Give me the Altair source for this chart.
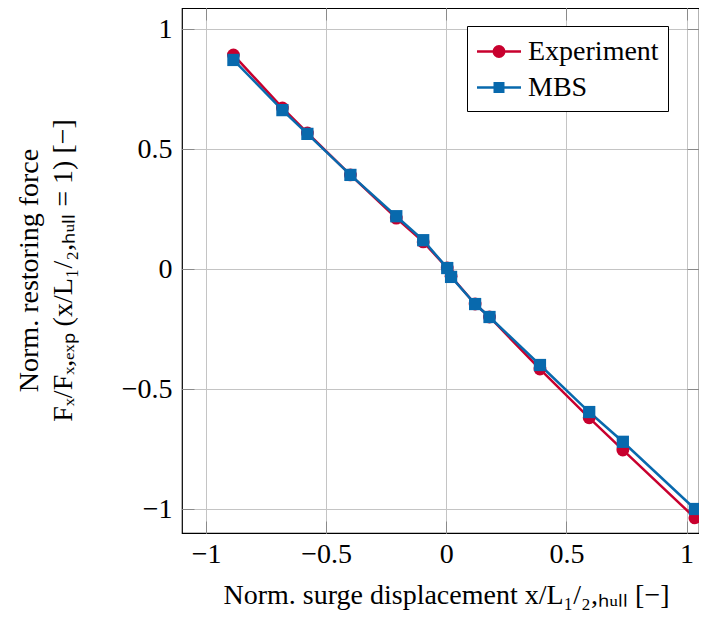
import altair as alt
import pandas as pd

# Data
series_names = ["Experiment", "MBS"]
x_vals = [-0.886, -0.682, -0.578, -0.399, -0.208, -0.096, 0.004, 0.02, 0.12, 0.18, 0.39, 0.595, 0.735, 1.035]
y_exp = [0.892, 0.671, 0.567, 0.392, 0.212, 0.113, 0.004, -0.03, -0.146, -0.2, -0.417, -0.62, -0.754, -1.037]
y_mbs = [0.871, 0.662, 0.563, 0.392, 0.22, 0.12, 0.004, -0.033, -0.146, -0.2, -0.4, -0.596, -0.72, -1.0]
tick_vals = [-1, -0.5, 0, 0.5, 1]

rows = []
for i, (xv, yv) in enumerate(zip(x_vals, y_exp)):
    rows.append({"series": "Experiment", "x": xv, "y": yv, "i": i})
for i, (xv, yv) in enumerate(zip(x_vals, y_mbs)):
    rows.append({"series": "MBS", "x": xv, "y": yv, "i": i})
df = pd.DataFrame(rows)

RED = "#c8002e"
BLUE = "#0869ad"
FONT = "Liberation Serif"
FS = 28
TICK_GRAY = "#8a8a8a"
colors = [RED, BLUE]

color_scale = alt.Scale(domain=series_names, range=colors)

# legend glyphs: line segment with marker (symbol units, r = 15px)
circle_path = "M-1.033,0H1.9M0.783,0A0.35,0.35 0 1 1 0.083,0A0.35,0.35 0 1 1 0.783,0Z"
square_path = "M-1.033,0H1.9M0.15,-0.283H0.716V0.283H0.15Z"

legend_kw = dict(
    title=None,
    orient="none",
    legendX=285,
    legendY=18,
    strokeColor="black",
    fillColor="white",
    padding=9,
    cornerRadius=0,
    labelFont=FONT,
    labelFontSize=FS,
    labelColor="black",
    labelOffset=19,
    labelExpr="datum.label + '\u00a0\u00a0\u00a0'",
    symbolSize=900,
    symbolOpacity=1,
    symbolStrokeWidth=2.5,
    rowPadding=5,
)

label_expr = "replace(format(datum.value, '~g'), '-', '\u2212')"

x_scale = alt.Scale(domain=[-1.1, 1.052], nice=False, zero=False)
y_scale = alt.Scale(domain=[-1.1, 1.0875], nice=False, zero=False)

x_enc = alt.X(
    "x:Q",
    scale=x_scale,
    axis=alt.Axis(
        orient="bottom",
        values=tick_vals,
        labelExpr=label_expr,
        title="Norm. surge displacement x/L\u2081/\u2082,\u2095\u1d64\u2097\u2097 [\u2212]",
        titleX=264,
        titleY=82,
        titleAlign="center",
        titleBaseline="alphabetic",
        offset=-12,
        ticks=True,
        tickSize=12,
        tickColor=TICK_GRAY,
        labelPadding=7,
        grid=True,
    ),
)
y_enc = alt.Y(
    "y:Q",
    scale=y_scale,
    axis=alt.Axis(
        orient="left",
        values=tick_vals,
        labelExpr=label_expr,
        title=[
            "Norm. restoring force",
            "F\u2093/F\u2093,\u2091\u2093\u209a (x/L\u2081/\u2082,\u2095\u1d64\u2097\u2097 = 1) [\u2212]",
        ],
        titleX=-165,
        titleY=262,
        titleAngle=270,
        titleAlign="center",
        titleBaseline="middle",
        titleLineHeight=34,
        offset=-12,
        ticks=True,
        tickSize=12,
        tickColor=TICK_GRAY,
        labelPadding=10,
        grid=True,
    ),
)

base = alt.Chart(df)

lines = base.mark_line(strokeWidth=2.5).encode(
    x=x_enc,
    y=y_enc,
    color=alt.Color("series:N", scale=color_scale, legend=alt.Legend(**legend_kw)),
    order="i:Q",
)

exp_points = base.transform_filter(alt.datum.series == "Experiment").mark_point(
    filled=True, opacity=1, shape="circle", size=165, color=RED
).encode(x="x:Q", y="y:Q")

mbs_points = base.transform_filter(alt.datum.series == "MBS").mark_point(
    filled=True, opacity=1, shape="square", size=150, color=BLUE
).encode(x="x:Q", y="y:Q")

# invisible layer carrying the legend glyphs
legend_layer = base.mark_point(filled=True, opacity=0, strokeWidth=2.5).encode(
    x="x:Q",
    y="y:Q",
    fill=alt.Fill("series:N", scale=alt.Scale(domain=series_names, range=colors), legend=alt.Legend(**legend_kw)),
    stroke=alt.Stroke("series:N", scale=alt.Scale(domain=series_names, range=colors), legend=alt.Legend(**legend_kw)),
    shape=alt.Shape("series:N", scale=alt.Scale(domain=series_names, range=[circle_path, square_path]), legend=alt.Legend(**legend_kw)),
)

main = alt.layer(lines, exp_points, mbs_points, legend_layer)

# top / right inward ticks
frame_ticks = base.mark_point(opacity=0).encode(
    x=alt.X(
        "x:Q",
        scale=x_scale,
        axis=alt.Axis(orient="top", values=tick_vals, labels=False, title=None, grid=False,
                      offset=-12, ticks=True, tickSize=12, tickColor=TICK_GRAY),
    ),
    y=alt.Y(
        "y:Q",
        scale=y_scale,
        axis=alt.Axis(orient="right", values=tick_vals, labels=False, title=None, grid=False,
                      offset=-12, ticks=True, tickSize=12, tickColor=TICK_GRAY),
    ),
)

chart = (
    alt.layer(main, frame_ticks)
    .resolve_axis(x="independent", y="independent")
    .properties(
        width=517,
        height=525,
        autosize=alt.AutoSizeParams(type="none"),
        padding={"left": 174, "top": 0, "right": 0, "bottom": 82},
    )
    .configure_view(stroke="black", strokeWidth=1.2)
    .configure_axis(
        gridColor="#c4c4c4",
        gridWidth=1,
        domain=False,
        tickWidth=1,
        labelFont=FONT,
        labelFontSize=FS,
        labelColor="black",
        titleFont=FONT,
        titleFontSize=FS,
        titleFontWeight="normal",
        titleColor="black",
    )
)

chart.save("out.html", embed_options={"renderer": "svg", "actions": False})
